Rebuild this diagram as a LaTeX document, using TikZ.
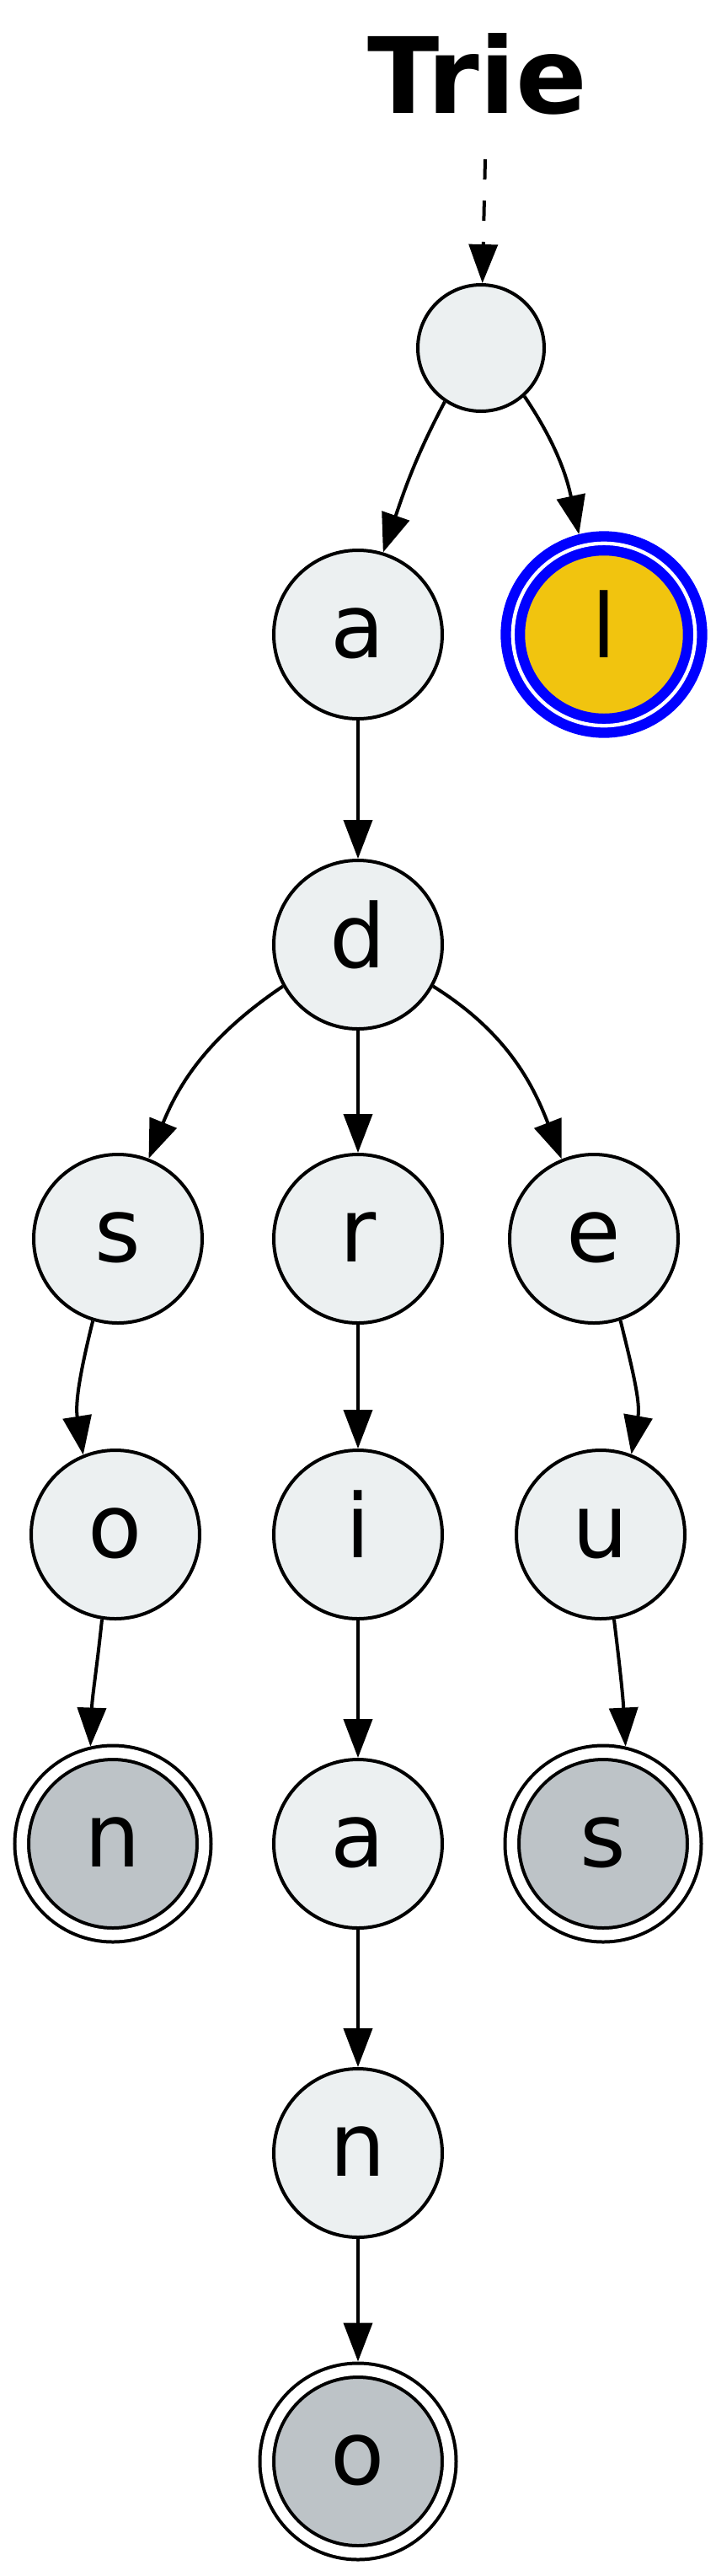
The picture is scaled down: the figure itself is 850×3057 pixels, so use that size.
\documentclass[tikz,border=0pt]{standalone}
\usepackage{fontspec}
\setmainfont{DejaVu Sans}
\usetikzlibrary{arrows.meta}
\definecolor{nodegray}{RGB}{236,240,241}
\definecolor{endgray}{RGB}{189,195,199}
\definecolor{sunflower}{RGB}{241,196,15}
\begin{document}
\begin{tikzpicture}
			[x=1pt,y=-1pt,
			trienode/.style={circle,draw,line width=4pt,fill=nodegray,minimum size=200pt,inner sep=0pt,
				text height=54pt,text depth=0pt,font=\fontsize{105}{126}\selectfont},
			endnode/.style={trienode,fill=endgray,double,double distance=12.5pt,minimum size=216.5pt,outer sep=10.25pt},
			hlnode/.style={trienode,draw=blue,fill=sunflower,line width=12.3pt,double,double distance=4.3pt,minimum size=216.4pt,outer sep=14.45pt},
			link/.style={line width=4pt,-{Triangle[length=46pt,width=34pt]}}]
			\fill[white] (0,0) rectangle (850,3057);
			\useasboundingbox (0,0) rectangle (850,3057);
			\node[font=\bfseries\fontsize{125}{150}\selectfont,anchor=base,name=title] at (566.5,134) {Trie};
			\coordinate (start) at (576,189);
			\node[trienode,minimum size=150pt,name=0] at (571,413) {};
			\node[trienode,name=1] at (425,753) {a};
			\node[hlnode,name=2] at (717,753) {l};
			\node[trienode,name=3] at (425,1121) {d};
			\node[trienode,name=4] at (140,1470) {s};
			\node[trienode,name=5] at (425,1470) {r};
			\node[trienode,name=6] at (705,1470) {e};
			\node[trienode,name=7] at (137,1821) {o};
			\node[trienode,name=8] at (425,1821) {i};
			\node[trienode,name=9] at (713,1821) {u};
			\node[endnode,name=10] at (134,2188) {n};
			\node[trienode,name=11] at (425,2188) {a};
			\node[endnode,name=12] at (716,2188) {s};
			\node[trienode,name=13] at (425,2555) {n};
			\node[endnode,name=14] at (425,2921) {o};
			\draw[link,dash pattern=on 24pt off 25pt] (start) -- (0);
			\draw[link] (0.-124) to[out=-118,in=71] (1.73);
			\draw[link] (0.-48) to[out=-56,in=102] (2.104);
			\draw[link] (3.-151) to[out=-146,in=68] (4.69);
			\draw[link] (3.-29) to[out=-32,in=111] (6.112);
			\draw[link] (4.-107) to[out=-104,in=99] (7.112);
			\draw[link] (7.-99) to[out=-96,in=88] (10.103);
			\draw[link] (6.-72) to[out=-76,in=80] (9.69);
			\draw[link] (9.-81) to[out=-83,in=93] (12.77);
			\foreach \a/\b in {1/3,3/5,5/8,8/11,11/13,13/14}
			{
				\draw[link] (\a) -- (\b);
			}
		\end{tikzpicture}
\end{document}
